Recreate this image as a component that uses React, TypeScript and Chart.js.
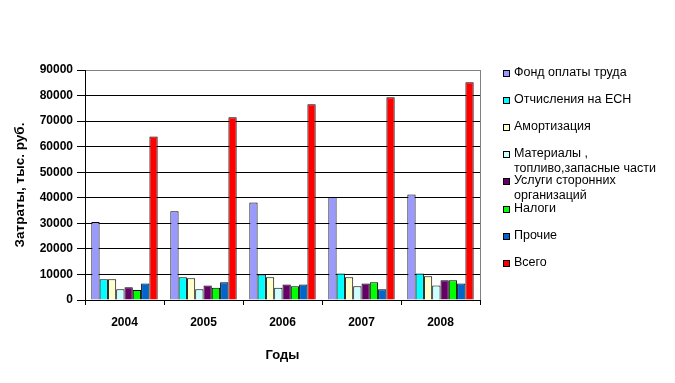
import React, { useEffect, useRef } from "react";
import { Chart, registerables } from "chart.js";

Chart.register(...registerables);

const years = ["2004", "2005", "2006", "2007", "2008"];
const seriesNames: (string | string[])[] = [
  "Фонд оплаты труда",
  "Отчисления на ЕСН",
  "Амортизация",
  ["Материалы ,", "топливо,запасные части"],
  ["Услуги сторонних", "организаций"],
  "Налоги",
  "Прочие",
  "Всего",
];
const fondOplaty = [30500, 34700, 38200, 40300, 41300];
const otchisleniya = [8100, 8900, 10000, 10400, 10400];
const amortizatsiya = [8100, 8500, 8900, 8900, 9300];
const materialy = [4200, 4200, 4800, 5400, 5700];
const uslugi = [5000, 5700, 6100, 6500, 7700];
const nalogi = [3900, 4800, 5400, 6900, 7700];
const prochie = [6500, 6900, 6100, 4200, 6500];
const vsego = [64000, 71500, 76600, 79300, 85200];
const seriesValues = [fondOplaty, otchisleniya, amortizatsiya, materialy, uslugi, nalogi, prochie, vsego];
const seriesColors = ["#9999FF", "#00FFFF", "#FFFFCC", "#CCFFFF", "#660066", "#00FF00", "#0066CC", "#FF0000"];
const yTicksMax = 90000;
const yTicksStep = 10000;
const yTitle = "Затраты, тыс. руб.";
const xTitle = "Годы";

const FONT = "'Liberation Sans', Arial, sans-serif";

const legendPlugin = {
  id: "customLegend",
  afterDraw(chart: any) {
    const ctx = chart.ctx;
    const area = chart.chartArea;
    ctx.save();
    // gray right border of plot area
    ctx.strokeStyle = "#808080";
    ctx.lineWidth = 1;
    ctx.beginPath();
    ctx.moveTo(Math.round(area.right) + 0.5, area.top);
    ctx.lineTo(Math.round(area.right) + 0.5, area.bottom);
    ctx.stroke();

    const x0 = 503;
    const startY = 73;
    const step = 27.1;
    ctx.font = `12.5px ${FONT}`;
    ctx.textBaseline = "middle";
    ctx.textAlign = "left";
    seriesNames.forEach((name, i) => {
      const y = Math.round(startY + i * step);
      ctx.fillStyle = seriesColors[i];
      ctx.fillRect(x0, y - 3, 7, 7);
      ctx.strokeStyle = "#000";
      ctx.strokeRect(x0 + 0.5, y - 3 + 0.5, 6, 6);
      ctx.fillStyle = "#000";
      const lines = Array.isArray(name) ? name : [name];
      lines.forEach((ln, j) => {
        ctx.fillText(ln, x0 + 11, y + j * 15);
      });
    });
    ctx.restore();
  },
};

export default function App() {
  const ref = useRef<HTMLCanvasElement | null>(null);
  useEffect(() => {
    if (!ref.current) return;
    const chart = new Chart(ref.current, {
      type: "bar",
      data: {
        labels: years,
        datasets: seriesValues.map((vals, i) => ({
          label: Array.isArray(seriesNames[i]) ? (seriesNames[i] as string[]).join(" ") : (seriesNames[i] as string),
          data: vals,
          backgroundColor: seriesColors[i],
          borderColor: "#000",
          borderWidth: 1,
          categoryPercentage: 0.84,
          barPercentage: 1.0,
        })),
      },
      options: {
        responsive: false,
        animation: false,
        layout: { padding: { top: 70, right: 195, left: 0, bottom: 0 } },
        plugins: {
          legend: { display: false },
          tooltip: { enabled: false },
        },
        scales: {
          x: {
            grid: {
              offset: true,
              drawOnChartArea: false,
              drawTicks: true,
              tickLength: 5,
              color: "#000",
            },
            border: { color: "#000", width: 1 },
            ticks: {
              color: "#000",
              font: { family: FONT, size: 12, weight: "bold" },
              padding: 10,
            },
            title: {
              display: true,
              text: xTitle,
              color: "#000",
              font: { family: FONT, size: 13, weight: "bold" },
              padding: { top: 0, bottom: 20 },
            },
            afterFit: (scale: any) => {
              scale.height = 83;
            },
          },
          y: {
            min: 0,
            max: yTicksMax,
            ticks: {
              stepSize: yTicksStep,
              color: "#000",
              font: { family: FONT, size: 12, weight: "bold" },
              padding: 4,
              callback: (v: any) => String(v),
            },
            grid: {
              color: (c: any) => (c.tick && c.tick.value === yTicksMax ? "#808080" : "#000"),
              tickColor: "#000",
              tickLength: 8,
              lineWidth: 1,
            },
            border: { color: "#000", width: 1 },
            title: {
              display: true,
              text: yTitle,
              color: "#000",
              font: { family: FONT, size: 13.5, weight: "bold" },
              padding: { top: 12, bottom: 0 },
            },
            afterFit: (scale: any) => {
              scale.width = 85;
            },
          },
        },
      },
      plugins: [legendPlugin],
    });
    return () => chart.destroy();
  }, []);
  return (
    <div style={{ position: "absolute", left: 0, top: 0, width: 675, height: 383, background: "#fff" }}>
      <canvas ref={ref} width={675} height={383} />
    </div>
  );
}
